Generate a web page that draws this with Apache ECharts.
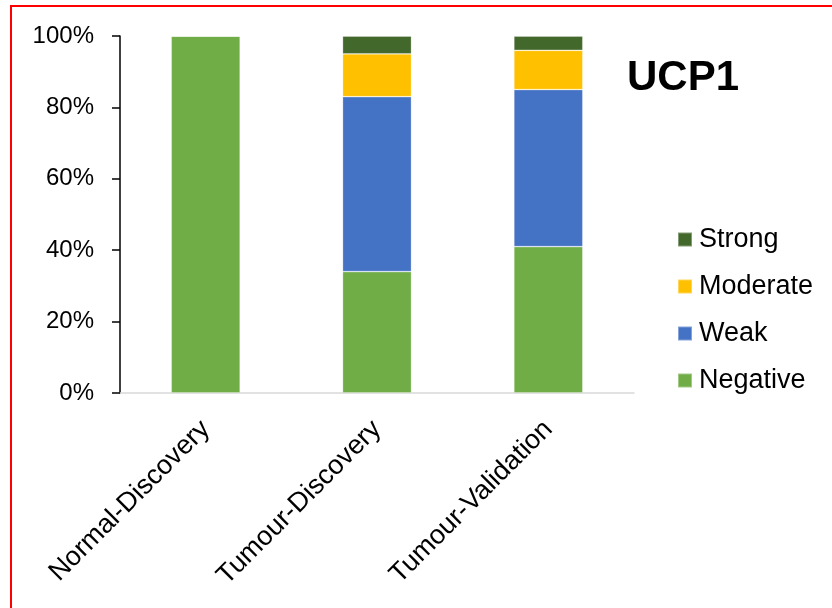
<!DOCTYPE html>
<html>
<head>
<meta charset="utf-8">
<script src="https://cdn.jsdelivr.net/npm/echarts@6/dist/echarts.min.js"></script>
<style>
  html, body { margin: 0; padding: 0; background: #fff; }
  #chart { width: 832px; height: 608px; }
</style>
</head>
<body>
<div id="chart"></div>
<script>
// Cohorts along the x axis
const categories = ['Normal-Discovery', 'Tumour-Discovery', 'Tumour-Validation'];

// UCP1 staining intensity, percent of cases per cohort
const negative = [100, 34, 41];
const weak     = [0, 49, 44];
const moderate = [0, 12, 11];
const strong   = [0, 5, 4];

// Y axis ticks
const yTicks = { min: 0, max: 100, interval: 20 };

const FONT = '"Liberation Sans", Arial, sans-serif';

const chart = echarts.init(document.getElementById('chart'), null, { renderer: 'canvas' });

function stackSeries(name, data, color) {
  return {
    name: name,
    type: 'bar',
    stack: 'total',
    barWidth: 69,
    data: data,
    itemStyle: { color: color, borderColor: 'rgba(255,255,255,0.35)', borderWidth: 0.8 },
    emphasis: { disabled: true }
  };
}

chart.setOption({
  animation: false,
  backgroundColor: '#ffffff',
  graphic: [{
    type: 'rect',
    shape: { x: 11, y: 6, width: 900, height: 700 },
    style: { fill: 'none', stroke: '#ff0000', lineWidth: 2 },
    z: 100
  }, {
    type: 'text',
    left: 627,
    top: 57,
    style: {
      text: 'UCP1',
      font: 'bold 42px ' + FONT,
      fill: '#000000'
    }
  }],
  grid: { left: 120, right: 198, top: 36, bottom: 215, containLabel: false },
  legend: {
    orient: 'vertical',
    left: 677,
    top: 226,
    padding: 0,
    itemWidth: 14,
    itemHeight: 14,
    itemGap: 20,
    icon: 'rect',
    data: ['Strong', 'Moderate', 'Weak', 'Negative'],
    textStyle: { fontFamily: FONT, fontSize: 27, color: '#000', lineHeight: 27, padding: [0, 0, 0, 2] }
  },
  xAxis: {
    type: 'category',
    data: categories,
    axisLine: { show: true, lineStyle: { color: '#d9d9d9', width: 1.5 } },
    axisTick: { show: false },
    axisLabel: {
      rotate: 45,
      margin: 32,
      fontFamily: FONT,
      fontSize: 27,
      color: '#000'
    }
  },
  yAxis: {
    type: 'value',
    min: yTicks.min,
    max: yTicks.max,
    interval: yTicks.interval,
    splitLine: { show: false },
    axisLine: { show: true, lineStyle: { color: '#000', width: 1.5 } },
    axisTick: { show: true, inside: false, length: 8, lineStyle: { color: '#000', width: 1.5 } },
    axisLabel: {
      formatter: '{value}%',
      margin: 26,
      fontFamily: FONT,
      fontSize: 24,
      color: '#000'
    }
  },
  series: [
    stackSeries('Negative', negative, '#70ad47'),
    stackSeries('Weak', weak, '#4472c4'),
    stackSeries('Moderate', moderate, '#ffc000'),
    stackSeries('Strong', strong, '#43682b')
  ]
});
</script>
</body>
</html>
